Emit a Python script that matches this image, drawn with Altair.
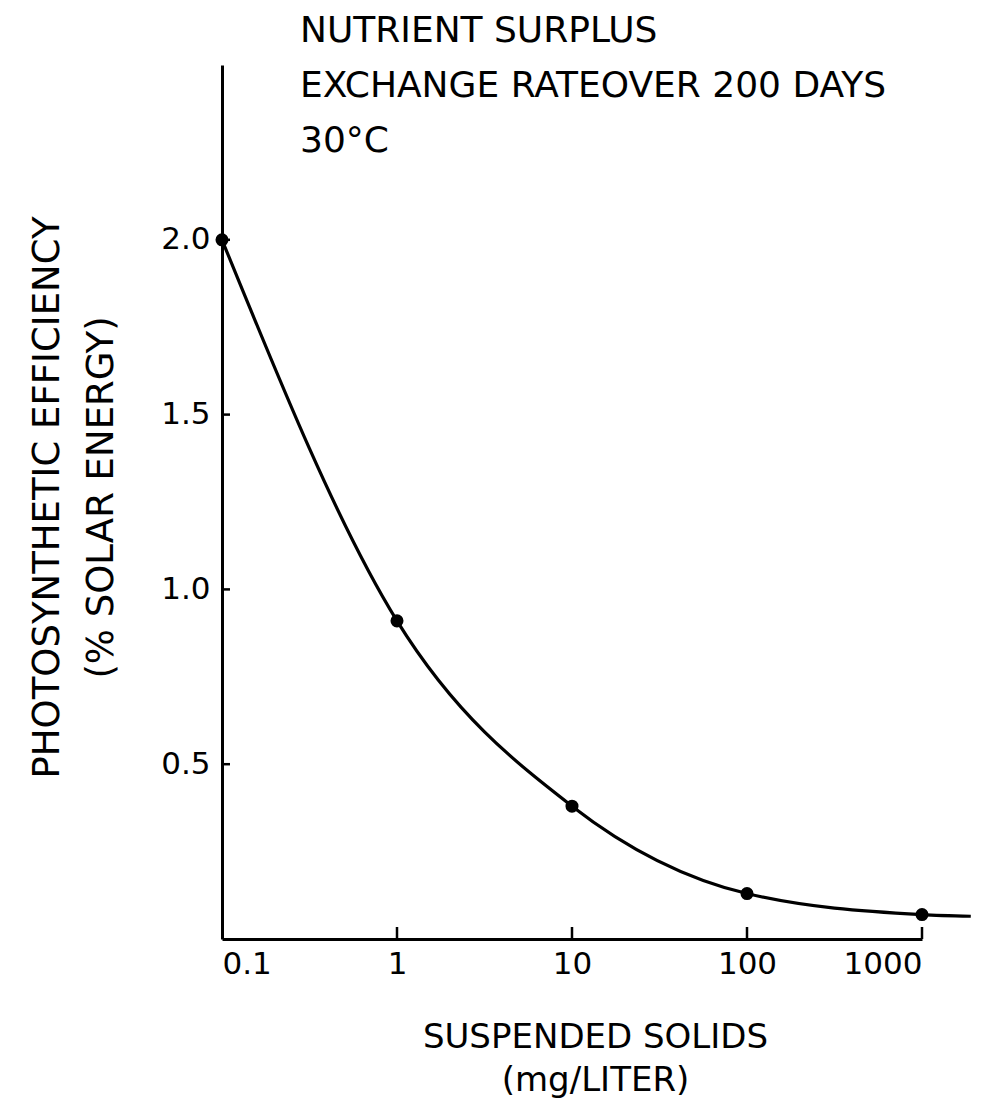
import altair as alt
import pandas as pd

# ---- data ----
x_vals = [0.1, 1, 10, 100, 1000]
y_vals = [2.0, 0.91, 0.38, 0.13, 0.07]
curve_x = [0.1, 1, 10, 100, 1000, 1900]
curve_y = [2.0, 0.91, 0.38, 0.13, 0.07, 0.065]
x_ticks = [0.1, 1, 10, 100, 1000]
x_tick_marks = [1, 10, 100, 1000]
y_ticks = [0.5, 1.0, 1.5, 2.0]
title_lines = ["NUTRIENT SURPLUS", "EXCHANGE RATEOVER 200 DAYS", "30°C"]
x_title = ["SUSPENDED SOLIDS", "(mg/LITER)"]
y_title = ["PHOTOSYNTHETIC EFFICIENCY", "(% SOLAR ENERGY)"]

W, H = 700, 874
FONT = "DejaVu Sans"

xscale = alt.Scale(type="log", domain=[0.1, 1000])
yscale = alt.Scale(domain=[0, 2.5])

xaxis = alt.Axis(
    values=x_ticks, format="~g", ticks=False, grid=False,
    domainColor="black", domainWidth=3,
    labelFont=FONT, labelFontSize=31, labelColor="black", labelPadding=10,
    title=x_title, titleFont=FONT, titleFontSize=34, titleFontWeight="normal",
    titleColor="black", titleLineHeight=43, titleX=373, titleY=108,
    titleAlign="center", titleBaseline="alphabetic",
)
yaxis = alt.Axis(
    values=y_ticks, format=".1f", ticks=False, grid=False,
    domainColor="black", domainWidth=3,
    labelFont=FONT, labelFontSize=31, labelColor="black", labelPadding=12,
    title=y_title, titleFont=FONT, titleFontSize=37, titleFontWeight="normal",
    titleColor="black", titleLineHeight=54, titleX=-164, titleY=432,
    titleAlign="center", titleBaseline="alphabetic", titleAngle=270,
)

pts = pd.DataFrame({"x": x_vals, "y": y_vals})
curve = pd.DataFrame({"x": curve_x, "y": curve_y})
xt = pd.DataFrame({"x": x_tick_marks})
yt = pd.DataFrame({"y": y_ticks})

line = alt.Chart(curve).mark_line(
    color="black", strokeWidth=3.2, interpolate="monotone"
).encode(
    x=alt.X("x:Q", scale=xscale, axis=xaxis),
    y=alt.Y("y:Q", scale=yscale, axis=yaxis),
)
dots = alt.Chart(pts).mark_circle(color="black", size=170, opacity=1).encode(
    x=alt.X("x:Q", scale=xscale, axis=xaxis),
    y=alt.Y("y:Q", scale=yscale, axis=yaxis),
)
xtick = alt.Chart(xt).mark_rule(color="black", strokeWidth=2.5).encode(
    x=alt.X("x:Q", scale=xscale, axis=xaxis),
    y=alt.value(H), y2=alt.value(H - 12),
)
ytick = alt.Chart(yt).mark_rule(color="black", strokeWidth=2.5).encode(
    y=alt.Y("y:Q", scale=yscale, axis=yaxis),
    x=alt.value(0), x2=alt.value(8),
)
title = alt.Chart(pd.DataFrame({"a": [0]})).mark_text(
    text=title_lines, align="left", baseline="alphabetic",
    font=FONT, fontSize=36, lineHeight=55, color="black",
).encode(x=alt.value(78), y=alt.value(-23))

chart = alt.layer(line, dots, xtick, ytick, title).properties(
    width=W, height=H,
    autosize=alt.AutoSizeParams(type="none"),
    padding={"left": 214, "top": 57, "right": 60, "bottom": 165},
    background="white",
).configure_view(stroke=None)

chart.save("out.html", embed_options={"renderer": "svg", "actions": False})
